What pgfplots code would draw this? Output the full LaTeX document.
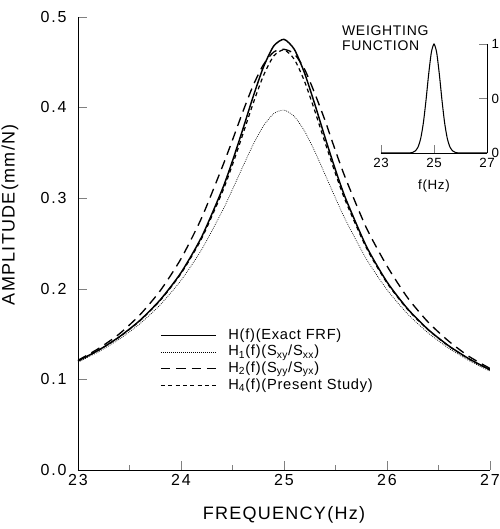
\documentclass[border=0pt]{standalone}
\usepackage{fontspec}
\setmainfont{Liberation Sans}[LetterSpace=5]
\newfontfamily\tickfont{Liberation Sans}[LetterSpace=12]
\newfontfamily\labfont{Liberation Sans}[LetterSpace=7]
\usepackage{pgfplots}
\pgfplotsset{compat=1.18}
\begin{document}
\begin{tikzpicture}
\begin{axis}[
  at={(0pt,0pt)}, anchor=south west, scale only axis,
  width=309pt, height=340pt,
  xmin=23, xmax=27, ymin=0, ymax=0.5,
  axis x line*=bottom, axis y line*=left,
  xtick={23,24,25,26,27}, minor xtick={23.5,24.5,25.5,26.5},
  ytick={0,0.1,0.2,0.3,0.4,0.5},
  tick align=inside, major tick length=7pt, minor tick length=4pt,
  /pgf/number format/assume math mode=true,
  yticklabel style={xshift=-5pt, /pgf/number format/.cd,fixed,fixed zerofill,precision=1},
  xticklabel style={/pgf/number format/.cd,fixed,precision=0},
  tick label style={font=\tickfont\fontsize{12}{14}\selectfont},
  label style={font=\labfont\fontsize{13.5}{15}\selectfont},
  xlabel={FREQUENCY(Hz)}, ylabel={AMPLITUDE(mm/N)},
  xlabel style={at={(axis description cs:0.5,-0.099)}, anchor=center},
  ylabel style={at={(axis description cs:-0.165,0.563)}, anchor=center},
  legend style={at={(rel axis cs:0.199,0.316)}, anchor=north west, draw=none, fill=none,
    font=\fontsize{11}{12}\selectfont, inner sep=0pt,
    nodes={inner ysep=0.6pt, text height=8.5pt, text depth=2.8pt}},
  legend cell align=left,
  legend image code/.code={\draw[#1] (0pt,0pt) -- (41pt,0pt); \path (48pt,0pt);},
]
\addplot[black, line width=1.1pt, smooth, tension=0.4] coordinates {
(23.0,0.1203) (23.2,0.1322) (23.4,0.1468) (23.6,0.1649) (23.8,0.1879) (24.0,0.2176)
(24.2,0.2570) (24.4,0.3093) (24.5,0.3410) (24.6,0.3757) (24.7,0.4116) (24.8,0.4443)
(24.9,0.4676) (25.0,0.4750) (25.1,0.4640) (25.2,0.4377) (25.3,0.4031) (25.4,0.3662)
(25.5,0.3309) (25.6,0.2990) (25.8,0.2467) (26.0,0.2074) (26.2,0.1778) (26.4,0.1549)
(26.6,0.1369) (26.8,0.1224) (27.0,0.1105)};
\addlegendentry{H(f)(Exact FRF)}
\addplot[black, line width=0.5pt, dash pattern=on 0.6pt off 0.9pt, smooth, tension=0.4] coordinates {
(23.0,0.1189) (23.2,0.1304) (23.4,0.1442) (23.6,0.1612) (23.8,0.1824) (24.0,0.2091)
(24.2,0.2430) (24.4,0.2854) (24.5,0.3095) (24.6,0.3345) (24.7,0.3588) (24.8,0.3794)
(24.9,0.3931) (25.0,0.3970) (25.1,0.3900) (25.2,0.3737) (25.3,0.3511) (25.4,0.3256)
(25.5,0.2999) (25.6,0.2753) (25.8,0.2327) (26.0,0.1988) (26.2,0.1722) (26.4,0.1511)
(26.6,0.1342) (26.8,0.1204) (27.0,0.1090)};
\addlegendentry{H\textsubscript{1}(f)(S\textsubscript{xy}/S\textsubscript{xx})}
\addplot[black, line width=1.0pt, dash pattern=on 7pt off 4.5pt, smooth, tension=0.4] coordinates {
(23.0,0.121) (23.2,0.134) (23.4,0.150) (23.6,0.171) (23.8,0.198) (24.0,0.233)
(24.2,0.278) (24.4,0.334) (24.5,0.364) (24.6,0.395) (24.7,0.424) (24.8,0.447)
(24.9,0.461) (25.0,0.464) (25.1,0.459) (25.2,0.442) (25.3,0.415) (25.4,0.385)
(25.5,0.352) (25.6,0.321) (25.8,0.267) (26.0,0.225) (26.2,0.190) (26.4,0.163)
(26.6,0.142) (26.8,0.125) (27.0,0.112)};
\addlegendentry{H\textsubscript{2}(f)(S\textsubscript{yy}/S\textsubscript{yx})}
\addplot[black, line width=0.9pt, dash pattern=on 3pt off 2.5pt, smooth, tension=0.4] coordinates {
(23.0,0.1201) (23.2,0.1320) (23.4,0.1465) (23.6,0.1644) (23.8,0.1872) (24.0,0.2166)
(24.2,0.2552) (24.4,0.3062) (24.5,0.3368) (24.6,0.3701) (24.7,0.4042) (24.8,0.4349)
(24.9,0.4566) (25.0,0.4634) (25.1,0.4530) (25.2,0.4285) (25.3,0.3957) (25.4,0.3606)
(25.5,0.3267) (25.6,0.2959) (25.8,0.2449) (26.0,0.2063) (26.2,0.1771) (26.4,0.1545)
(26.6,0.1366) (26.8,0.1222) (27.0,0.1103)};
\addlegendentry{H\textsubscript{4}(f)(Present Study)}
\end{axis}
\begin{axis}[
  at={(227.25pt,237.75pt)}, anchor=south west, scale only axis,
  width=79.5pt, height=81.75pt,
  xmin=23, xmax=27, ymin=0, ymax=1,
  axis x line*=bottom, axis y line*=right,
  xtick={23,25,27}, ytick={0,0.5,1},
  tick align=inside, major tick length=6pt,
  /pgf/number format/assume math mode=true,
  tick label style={font=\fontsize{10}{12}\selectfont},
  yticklabel style={overlay},
  xlabel={f(Hz)},
  xlabel style={font=\fontsize{10}{12}\selectfont, at={(axis description cs:0.5,-0.3)}, anchor=center},
  clip=false,
]
\addplot[black, line width=0.8pt, smooth, tension=0.4] coordinates {
(23.0,0) (24.0,0) (24.2,0.006) (24.3,0.020) (24.4,0.056) (24.5,0.135) (24.6,0.278) (24.7,0.487)
(24.8,0.726) (24.9,0.923) (25.0,1.0) (25.1,0.923) (25.2,0.726) (25.3,0.487) (25.4,0.278)
(25.5,0.135) (25.6,0.056) (25.7,0.020) (25.8,0.006) (26.0,0) (27.0,0)};
\node[anchor=north west, align=left, inner sep=0pt, font=\fontsize{10.5}{11.3}\selectfont] at (rel axis cs:-0.37,1.17) {WEIGHTING\\FUNCTION};
\end{axis}
\pgfresetboundingbox
\useasboundingbox (-58.5pt,-44.25pt) rectangle (316.5pt,352.5pt);
\end{tikzpicture}
\end{document}
